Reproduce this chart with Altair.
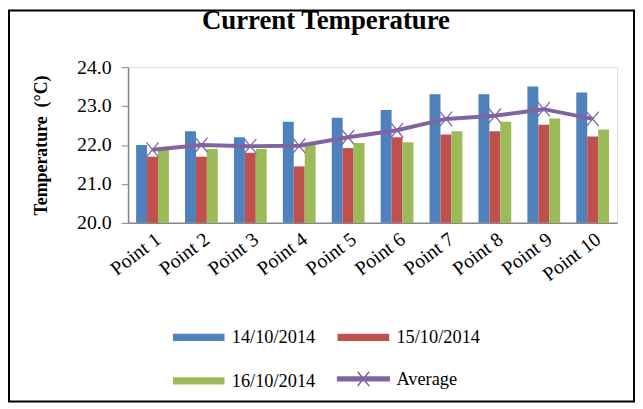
import altair as alt
import pandas as pd

points = ["Point 1", "Point 2", "Point 3", "Point 4", "Point 5",
          "Point 6", "Point 7", "Point 8", "Point 9", "Point 10"]
dates = ["14/10/2014", "15/10/2014", "16/10/2014"]
d14 = [22.0, 22.35, 22.2, 22.6, 22.7, 22.9, 23.3, 23.3, 23.5, 23.35]
d15 = [21.7, 21.7, 21.8, 21.45, 21.92, 22.2, 22.27, 22.35, 22.52, 22.22]
d16 = [21.9, 21.9, 21.9, 22.0, 22.05, 22.07, 22.35, 22.6, 22.68, 22.4]
avg = [21.88, 22.0, 21.97, 21.98, 22.2, 22.38, 22.67, 22.75, 22.92, 22.67]
y_ticks = [20.0, 21.0, 22.0, 23.0, 24.0]

bar_colors = ["#4F81BD", "#C0504D", "#9BBB59"]
avg_color = "#8064A2"

rows = []
for name, vals in zip(dates, [d14, d15, d16]):
    for p, v in zip(points, vals):
        rows.append({"point": p, "series": name, "value": v})
bars_df = pd.DataFrame(rows)
avg_df = pd.DataFrame({"point": points, "series": "Average", "value": avg})

FONT = "Liberation Serif"
W, H = 493, 157

rect_path = "M-4,-0.55H4V0.55H-4Z"
avg_path = "M-4,-0.3H4V0.3H-4Z M-0.9,-1.1L0.9,1.1 M-0.9,1.1L0.9,-1.1"

bar_legend = alt.Legend(
    title=None, orient="none", legendX=62, legendY=263, columns=2,
    direction="horizontal",
    symbolType=rect_path, symbolSize=169, symbolStrokeWidth=0, symbolOpacity=1,
    labelFont=FONT, labelFontSize=18.5, labelColor="black",
    labelOffset=24, columnPadding=22, rowPadding=25,
)
avg_legend = alt.Legend(
    title=None, orient="none", legendX=228, legendY=305,
    symbolType=avg_path, symbolSize=169, symbolStrokeWidth=1.5,
    symbolFillColor=avg_color, symbolStrokeColor=avg_color, symbolOpacity=1,
    labelFont=FONT, labelFontSize=18.5, labelColor="black", labelOffset=24,
)

x_axis = alt.Axis(labelAngle=323, labelFont=FONT, labelFontSize=20,
                  labelColor="black", ticks=False, labelPadding=6,
                  domainColor="#868686", domainWidth=1.5)
x_enc = alt.X("point:N", sort=points, title=None,
              scale=alt.Scale(paddingInner=0.33, paddingOuter=0.165),
              axis=x_axis)
y_scale = alt.Scale(domain=[20, 24], zero=False, nice=False)
y_axis = alt.Axis(values=y_ticks, tickCount=5, format=".1f", grid=False,
                  labelOverlap=False, labelFlush=False,
                  labelFont=FONT, labelFontSize=20, labelColor="black",
                  labelPadding=10, tickSize=7, tickColor="#868686",
                  domainColor="#868686", domainWidth=1.5,
                  titleFont=FONT, titleFontSize=18, titleFontWeight="bold",
                  titleColor="black", titlePadding=26)
Y_TITLE = "Temperature\u00a0\u00a0(°C)"

bars = alt.Chart(bars_df).mark_bar().encode(
    x=x_enc,
    xOffset=alt.XOffset("series:N", sort=dates),
    y=alt.Y("value:Q", scale=y_scale, title=Y_TITLE, axis=y_axis),
    y2=alt.datum(20),
    color=alt.Color("series:N", sort=dates,
                    scale=alt.Scale(domain=dates, range=bar_colors),
                    legend=bar_legend),
)

line = alt.Chart(avg_df).mark_line(strokeWidth=4).encode(
    x=alt.X("point:N", sort=points, title=None, axis=x_axis),
    y=alt.Y("value:Q", scale=y_scale, title=Y_TITLE, axis=y_axis),
    stroke=alt.Stroke("series:N",
                      scale=alt.Scale(domain=["Average"], range=[avg_color]),
                      legend=avg_legend),
)

marks = alt.Chart(avg_df).mark_point(
    shape="M-1,-1.2L1,1.2M-1,1.2L1,-1.2", size=150, filled=False,
    strokeWidth=1.3, color=avg_color, opacity=1,
).encode(
    x=alt.X("point:N", sort=points, title=None, axis=x_axis),
    y=alt.Y("value:Q", scale=y_scale, title=Y_TITLE, axis=y_axis),
)

frame = alt.Chart(pd.DataFrame({"a": [0]})).mark_rect(
    fill=None, stroke="black", strokeWidth=2, clip=False,
).encode(
    x=alt.value(-120), x2=alt.value(W + 17),
    y=alt.value(-57), y2=alt.value(H + 180),
)

chart = alt.layer(bars, line, marks, frame).properties(
    width=W, height=H,
    autosize=alt.AutoSizeParams(type="none"),
    padding={"left": 121, "top": 58, "right": 18, "bottom": 182},
    title=alt.TitleParams("Current Temperature", font=FONT, fontSize=27,
                          fontWeight="bold", color="black", anchor="middle",
                          baseline="alphabetic", dx=-47, dy=47, offset=0),
).resolve_scale(color="independent").configure_view(stroke=None).configure(background="white")

chart.save("out.html", embed_options={"renderer": "svg", "actions": False})
